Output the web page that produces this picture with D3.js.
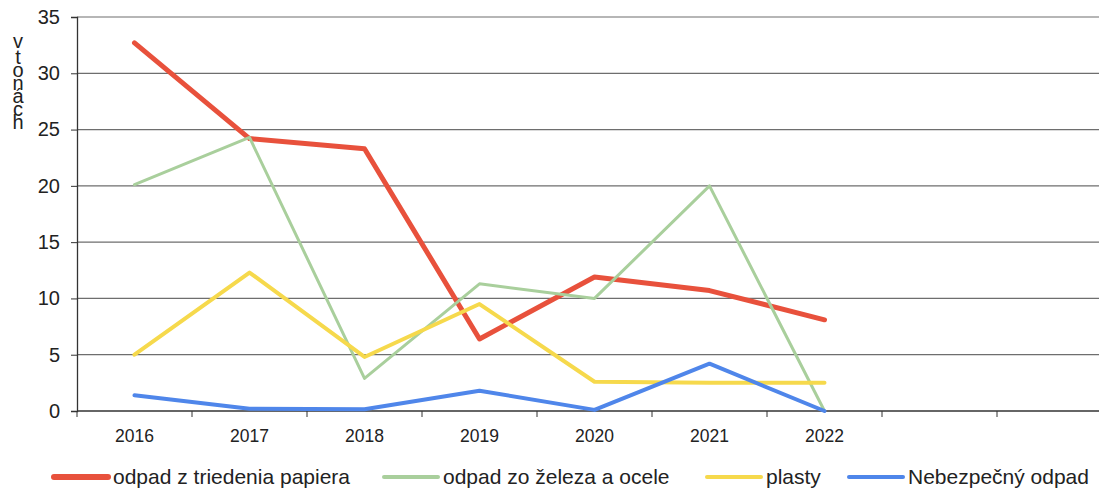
<!DOCTYPE html>
<html>
<head>
<meta charset="utf-8">
<script src="https://cdn.jsdelivr.net/npm/d3@7"></script>
<style>
  body { margin: 0; background: #fff; }
  svg { display: block; font-family: "Liberation Sans", Arial, sans-serif; }
  .ylabel { writing-mode: vertical-rl; text-orientation: upright; }
</style>
</head>
<body>
<svg id="chart" width="1099" height="491"></svg>
<script>
// categories (two empty slots at the end, as in the original)
var years = ["2016", "2017", "2018", "2019", "2020", "2021", "2022", "", " "]
var yTicks = [0, 5, 10, 15, 20, 25, 30, 35]

var papier = [32.7, 24.2, 23.3, 6.4, 11.9, 10.7, 8.1]
var zelezo = [20.1, 24.3, 2.9, 11.3, 10.0, 20.0, 0]
var plasty = [5.0, 12.3, 4.8, 9.5, 2.6, 2.5, 2.5]
var nebezpecny = [1.4, 0.2, 0.15, 1.8, 0.1, 4.2, 0]

var seriesNames = ["odpad z triedenia papiera", "odpad zo železa a ocele", "plasty", "Nebezpečný odpad"]
var yLabel = "v tonách"

var series = [
  { name: seriesNames[0], values: papier, color: "#e8513c", width: 5 },
  { name: seriesNames[1], values: zelezo, color: "#a9cf9c", width: 3 },
  { name: seriesNames[2], values: plasty, color: "#f6d94c", width: 4 },
  { name: seriesNames[3], values: nebezpecny, color: "#4f86ea", width: 4 }
]

var svg = d3.select("#chart")

var x = d3.scaleBand().domain(years).range([77, 1112])
var y = d3.scaleLinear().domain([0, 35]).range([411, 17])

// gridlines
svg.append("g")
  .selectAll("line")
  .data(yTicks.filter(function (d) { return d > 0 }))
  .enter().append("line")
  .attr("x1", 77).attr("x2", 1099)
  .attr("y1", function (d) { return y(d) }).attr("y2", function (d) { return y(d) })
  .attr("stroke", "#6e6e6e").attr("stroke-width", 1.2)

// y axis
var gy = svg.append("g").attr("transform", "translate(77,0)")
  .call(d3.axisLeft(y).tickValues(yTicks).tickSize(6).tickPadding(11))
gy.select(".domain").attr("stroke", "#333").attr("stroke-width", 1.3)
gy.selectAll(".tick line").attr("stroke", "#333")
gy.selectAll(".tick text").attr("font-size", 20).attr("fill", "#222")
  .attr("font-family", "Liberation Sans, Arial, sans-serif")

// x axis (ticks between categories)
var xAxis = svg.append("g").attr("transform", "translate(0,411)")
xAxis.append("line").attr("x1", 77).attr("x2", 1099).attr("y1", 0).attr("y2", 0)
  .attr("stroke", "#333").attr("stroke-width", 1.3)
xAxis.selectAll(".sep")
  .data(years)
  .enter().append("line")
  .attr("class", "sep")
  .attr("x1", function (d) { return x(d) }).attr("x2", function (d) { return x(d) })
  .attr("y1", 0).attr("y2", 6)
  .attr("stroke", "#333")
xAxis.selectAll(".lbl")
  .data(years)
  .enter().append("text")
  .attr("class", "lbl")
  .attr("x", function (d) { return x(d) + x.bandwidth() / 2 })
  .attr("y", 31)
  .attr("text-anchor", "middle")
  .attr("font-size", 17.5)
  .attr("fill", "#222")
  .text(function (d) { return d.trim() })

// y label, letters stacked upright (tight, as in the original)
svg.append("text")
  .attr("class", "ylabel")
  .attr("x", 18)
  .attr("y", 30)
  .attr("font-size", 20)
  .attr("letter-spacing", -9)
  .attr("word-spacing", -10)
  .attr("fill", "#222")
  .text(yLabel)

// lines
var line = d3.line()
  .x(function (d, i) { return x(years[i]) + x.bandwidth() / 2 })
  .y(function (d) { return y(d) })

series.forEach(function (s) {
  svg.append("path")
    .attr("d", line(s.values))
    .attr("fill", "none")
    .attr("stroke", s.color)
    .attr("stroke-width", s.width)
    .attr("stroke-linejoin", "round")
    .attr("stroke-linecap", "round")
})

// legend
var legendX = [54, 384, 707, 849]
var leg = svg.append("g").attr("transform", "translate(0,477)")
series.forEach(function (s, i) {
  leg.append("line")
    .attr("x1", legendX[i]).attr("x2", legendX[i] + 54)
    .attr("y1", 0).attr("y2", 0)
    .attr("stroke", s.color)
    .attr("stroke-width", i === 0 ? 6 : 4)
    .attr("stroke-linecap", "round")
  leg.append("text")
    .attr("x", legendX[i] + 59)
    .attr("y", 7)
    .attr("font-size", 21)
    .attr("fill", "#222")
    .text(s.name)
})
</script>
</body>
</html>
